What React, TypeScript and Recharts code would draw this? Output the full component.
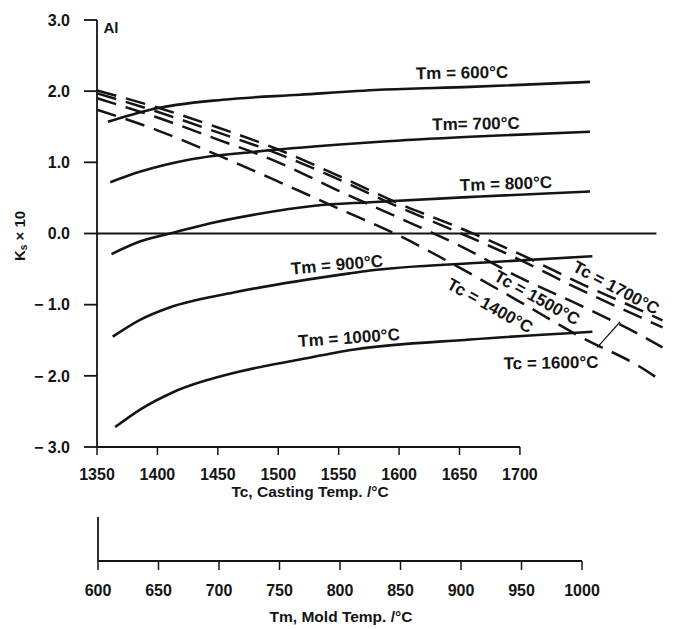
import React from 'react';
import { ComposedChart, LineChart, Line, XAxis, YAxis, ReferenceLine } from 'recharts';

const FONT = "'Liberation Sans', Arial, Helvetica, sans-serif";
const INK = '#141414';

// axis ticks
const TC_TICKS = [1350, 1400, 1450, 1500, 1550, 1600, 1650, 1700];
const TM_TICKS = [600, 650, 700, 750, 800, 850, 900, 950, 1000];
const K_TICKS = [-3, -2, -1, 0, 1, 2, 3];

// solid curves: Ks x 10 against casting temperature, one per mould temperature
const TM600_TC = [1359, 1394, 1454, 1518, 1584, 1659, 1758];
const TM600_K = [1.57, 1.74, 1.88, 1.95, 2.02, 2.06, 2.13];
const TM700_TC = [1361, 1386, 1427, 1482, 1551, 1584, 1659, 1758];
const TM700_K = [0.72, 0.87, 1.04, 1.15, 1.25, 1.29, 1.36, 1.43];
const TM800_TC = [1362, 1386, 1413, 1443, 1482, 1530, 1576, 1667, 1758];
const TM800_K = [-0.29, -0.11, 0.01, 0.14, 0.27, 0.39, 0.44, 0.52, 0.59];
const TM900_TC = [1363, 1386, 1410, 1463, 1559, 1576, 1667, 1760];
const TM900_K = [-1.45, -1.21, -1.04, -0.83, -0.56, -0.52, -0.41, -0.32];
const TM1000_TC = [1365, 1386, 1413, 1468, 1518, 1563, 1659, 1760];
const TM1000_K = [-2.72, -2.47, -2.23, -1.94, -1.77, -1.63, -1.49, -1.38];

// dashed curves: Ks x 10 against mould temperature, one per casting temperature
const TM_SAMPLES = [600, 650, 700, 750, 800, 850, 900, 950, 1000, 1050, 1068];
const TC1400_K = [1.74, 1.45, 1.1, 0.73, 0.35, -0.03, -0.48, -0.96, -1.45, -1.88, -2.08];
const TC1500_K = [1.9, 1.63, 1.32, 1.0, 0.6, 0.22, -0.17, -0.62, -1.01, -1.43, -1.6];
const TC1600_K = [1.97, 1.71, 1.42, 1.12, 0.76, 0.37, 0.01, -0.37, -0.79, -1.18, -1.32];
const TC1700_K = [2.01, 1.77, 1.49, 1.18, 0.81, 0.42, 0.08, -0.29, -0.7, -1.08, -1.22];

const solid = [
  { name: 'Tm600', tc: TM600_TC, k: TM600_K },
  { name: 'Tm700', tc: TM700_TC, k: TM700_K },
  { name: 'Tm800', tc: TM800_TC, k: TM800_K },
  { name: 'Tm900', tc: TM900_TC, k: TM900_K },
  { name: 'Tm1000', tc: TM1000_TC, k: TM1000_K },
].map((s) => ({ name: s.name, data: s.tc.map((tc, i) => ({ tc, k: s.k[i] })) }));

const dashed = [
  { name: 'Tc1400', k: TC1400_K },
  { name: 'Tc1500', k: TC1500_K },
  { name: 'Tc1600', k: TC1600_K },
  { name: 'Tc1700', k: TC1700_K },
].map((s) => ({ name: s.name, data: TM_SAMPLES.map((tm, i) => ({ tm, k: s.k[i] })) }));

const fmtK = (v: number) => (v === 0 ? '0.0' : v < 0 ? `\u2212 ${Math.abs(v).toFixed(1)}` : v.toFixed(1));

const tickStyle = { fill: INK, fontSize: 16, fontWeight: 700, fontFamily: FONT };

const CurveLabel = ({ x, y, rot = 0, children }: { x: number; y: number; rot?: number; children: React.ReactNode }) => (
  <text
    x={x}
    y={y}
    transform={`rotate(${rot} ${x} ${y})`}
    textAnchor="middle"
    dominantBaseline="central"
    fontSize={17}
    fontWeight={700}
    fontFamily={FONT}
    fill={INK}
  >
    {children}
  </text>
);

export default function App() {
  return (
    <div style={{ position: 'absolute', left: 0, top: 0, width: 693, height: 629, background: '#fff', fontFamily: FONT }}>
      <div style={{ position: 'absolute', left: 0, top: 0 }}>
        <ComposedChart width={693} height={505} margin={{ top: 20, right: 16, bottom: 0, left: 10 }}>
          <XAxis
            xAxisId="tc"
            dataKey="tc"
            type="number"
            domain={[1350, 1830]}
            ticks={TC_TICKS}
            interval={0}
            axisLine={false}
            tickLine={{ stroke: INK, strokeWidth: 1.5 }}
            tickSize={8}
            tickMargin={14}
            tick={tickStyle}
            height={58}
          />
          <XAxis xAxisId="tm" dataKey="tm" type="number" domain={[600, 1080]} hide />
          <YAxis
            type="number"
            domain={[-3, 3]}
            ticks={K_TICKS}
            interval={0}
            width={87}
            axisLine={{ stroke: INK, strokeWidth: 1.8 }}
            tickLine={{ stroke: INK, strokeWidth: 1.8 }}
            tickSize={13}
            tickMargin={14}
            tick={tickStyle}
            tickFormatter={fmtK}
          />
          {/* casting temperature axis stops at 1700 */}
          <ReferenceLine
            xAxisId="tc"
            segment={[{ x: 1350, y: -3 }, { x: 1700, y: -3 }]}
            stroke={INK}
            strokeWidth={2}
          />
          <ReferenceLine
            xAxisId="tc"
            segment={[{ x: 1350, y: 0 }, { x: 1813, y: 0 }]}
            stroke={INK}
            strokeWidth={1.8}
          />
          {solid.map((s) => (
            <Line
              key={s.name}
              xAxisId="tc"
              data={s.data}
              dataKey="k"
              type="monotone"
              stroke={INK}
              strokeWidth={2.6}
              dot={false}
              isAnimationActive={false}
            />
          ))}
          {dashed.map((s) => (
            <Line
              key={s.name}
              xAxisId="tm"
              data={s.data}
              dataKey="k"
              type="monotone"
              stroke={INK}
              strokeWidth={2.5}
              strokeDasharray="20 10"
              dot={false}
              isAnimationActive={false}
            />
          ))}
          {/* pointer for the Tc = 1600 label */}
          <ReferenceLine
            xAxisId="tm"
            segment={[{ x: 1014, y: -1.6 }, { x: 1033, y: -1.24 }]}
            stroke={INK}
            strokeWidth={1.2}
          />
        </ComposedChart>
      </div>

      {/* mould temperature scale underneath */}
      <div style={{ position: 'absolute', left: 0, top: 505 }}>
        <LineChart width={693} height={124} data={TM_TICKS.map((tm) => ({ tm }))} margin={{ top: 12, right: 111, bottom: 0, left: 10 }}>
          <XAxis
            dataKey="tm"
            type="number"
            domain={[600, 1000]}
            ticks={TM_TICKS}
            interval={0}
            axisLine={{ stroke: INK, strokeWidth: 2 }}
            tickLine={{ stroke: INK, strokeWidth: 1.5 }}
            tickSize={9}
            tickMargin={15}
            tick={tickStyle}
            height={68}
          />
          <YAxis domain={[0, 1]} width={88} tick={false} tickLine={false} axisLine={{ stroke: INK, strokeWidth: 1.8 }} />
        </LineChart>
      </div>

      <svg width={693} height={629} style={{ position: 'absolute', left: 0, top: 0, pointerEvents: 'none' }}>
        <text x={111} y={27} textAnchor="middle" dominantBaseline="central" fontSize={15} fontWeight={700} fontFamily={FONT} fill={INK}>
          Al
        </text>
        <text
          x={19}
          y={236}
          transform="rotate(-90 19 236)"
          textAnchor="middle"
          dominantBaseline="central"
          fontSize={15}
          fontWeight={700}
          fontFamily={FONT}
          fill={INK}
        >
          K<tspan fontSize={10} dy={4}>s</tspan>
          <tspan dy={-4}> × 10</tspan>
        </text>
        <text x={310} y={491} textAnchor="middle" dominantBaseline="central" fontSize={15.5} fontWeight={700} fontFamily={FONT} fill={INK}>
          Tc, Casting Temp. /°C
        </text>
        <text x={341} y={616} textAnchor="middle" dominantBaseline="central" fontSize={15.5} fontWeight={700} fontFamily={FONT} fill={INK}>
          Tm,  Mold Temp. /°C
        </text>

        <CurveLabel x={462} y={73} rot={-1}>Tm = 600°C</CurveLabel>
        <CurveLabel x={476} y={124} rot={-1}>Tm= 700°C</CurveLabel>
        <CurveLabel x={506} y={184} rot={-2}>Tm = 800°C</CurveLabel>
        <CurveLabel x={337} y={265} rot={-5}>Tm = 900°C</CurveLabel>
        <CurveLabel x={349} y={338} rot={-4}>Tm = 1000°C</CurveLabel>
        <CurveLabel x={490} y={306} rot={29}>Tc = 1400°C</CurveLabel>
        <CurveLabel x={537} y={298} rot={29}>Tc = 1500°C</CurveLabel>
        <CurveLabel x={616} y={288} rot={28}>Tc = 1700°C</CurveLabel>
        <CurveLabel x={551} y={363} rot={-1}>Tc = 1600°C</CurveLabel>
      </svg>
    </div>
  );
}
